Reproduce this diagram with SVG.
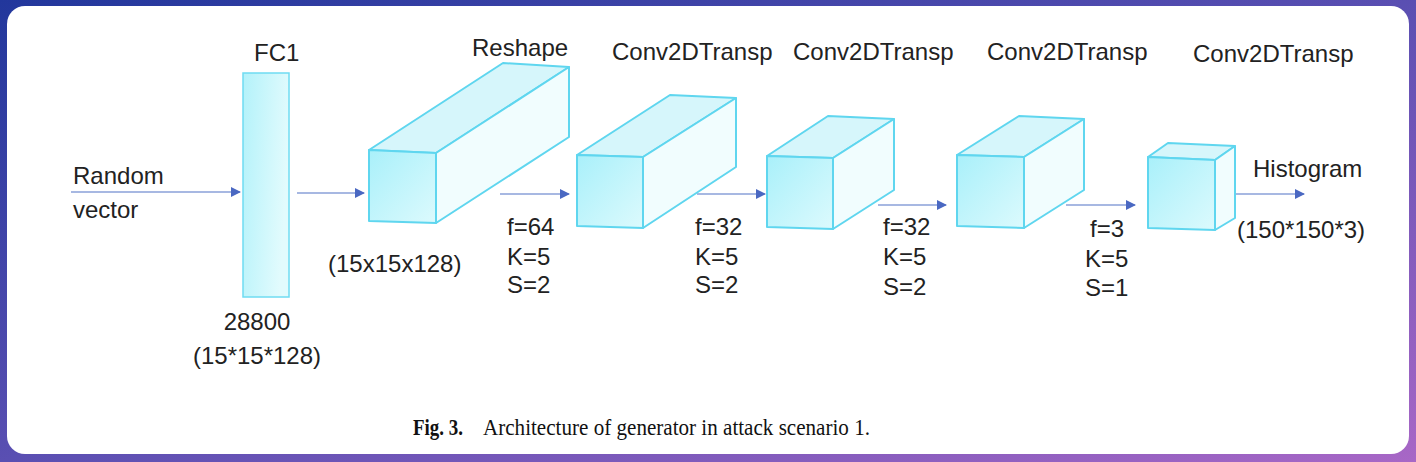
<svg xmlns="http://www.w3.org/2000/svg" width="1416" height="462" viewBox="0 0 1416 462">
<defs>
<linearGradient id="frame" x1="0" y1="0" x2="1" y2="1">
<stop offset="0" stop-color="#22379c"/>
<stop offset="0.5" stop-color="#5a4fb2"/>
<stop offset="1" stop-color="#a867c6"/>
</linearGradient>
<linearGradient id="front" x1="0" y1="0" x2="1" y2="1">
<stop offset="0" stop-color="#a9f0fa"/>
<stop offset="1" stop-color="#dcfafd"/>
</linearGradient>
<linearGradient id="fc" x1="0" y1="0" x2="1" y2="0.3">
<stop offset="0" stop-color="#b3f2fa"/>
<stop offset="1" stop-color="#e2fbfd"/>
</linearGradient>
<marker id="ah" viewBox="0 0 10 10" refX="9" refY="5" markerWidth="10" markerHeight="10" markerUnits="userSpaceOnUse" orient="auto">
<path d="M0,0 L10,5 L0,10 z" fill="#4a68c2"/>
</marker>
<style>
.t{font-family:"Liberation Sans",Arial,sans-serif;font-size:24px;fill:#222}
.fr{fill:url(#front);stroke:#5fd6ef;stroke-width:2;stroke-linejoin:round}
.tp{fill:#d6f6fb;stroke:#5fd6ef;stroke-width:2;stroke-linejoin:round}
.rt{fill:#f1fdfe;stroke:#5fd6ef;stroke-width:2;stroke-linejoin:round}
.ar{stroke:#8aa0d8;stroke-width:1.6;fill:none;marker-end:url(#ah)}
</style>
</defs>
<rect x="0" y="0" width="1416" height="462" fill="url(#frame)"/>
<rect x="7" y="6" width="1402" height="448" rx="18" fill="#ffffff"/>

<g id="connectors">
<line class="ar" x1="71" y1="192" x2="240" y2="192"/>
<line class="ar" x1="297" y1="193" x2="364" y2="193"/>
<line class="ar" x1="500" y1="194" x2="569" y2="194"/>
<line class="ar" x1="697" y1="194" x2="765" y2="194"/>
<line class="ar" x1="878" y1="205" x2="946" y2="205"/>
<line class="ar" x1="1066" y1="205" x2="1135" y2="205"/>
<line class="ar" x1="1236" y1="194" x2="1304" y2="194"/>
</g>

<g id="input">
<text class="t" x="73" y="184">Random</text>
<text class="t" x="73" y="218">vector</text>
</g>

<g id="fc1">
<text class="t" x="254" y="61">FC1</text>
<rect x="243" y="73" width="46" height="224" fill="url(#fc)" stroke="#6fdcf2" stroke-width="1.5"/>
<text class="t" x="257" y="330" text-anchor="middle">28800</text>
<text class="t" x="257" y="364" text-anchor="middle">(15*15*128)</text>
</g>

<g id="reshape">
<text class="t" x="472" y="56">Reshape</text>
<polygon class="tp" points="369,150 436,153 569,67 503,63"/>
<polygon class="rt" points="436,153 569,67 569,137 436,223"/>
<polygon class="fr" points="369,150 436,153 436,223 369,221"/>
<text class="t" x="328" y="272">(15x15x128)</text>
<text class="t" x="507" y="235">f=64</text>
<text class="t" x="507" y="265">K=5</text>
<text class="t" x="507" y="293">S=2</text>
</g>

<g id="conv1">
<text class="t" x="612" y="60">Conv2DTransp</text>
<polygon class="tp" points="577,155 643,157 736,98 670,95"/>
<polygon class="rt" points="643,157 736,98 736,167 643,228"/>
<polygon class="fr" points="577,155 643,157 643,228 577,226"/>
<text class="t" x="695" y="235">f=32</text>
<text class="t" x="695" y="265">K=5</text>
<text class="t" x="695" y="293">S=2</text>
</g>

<g id="conv2">
<text class="t" x="793" y="60">Conv2DTransp</text>
<polygon class="tp" points="767,156 833,158 894,119 828,116"/>
<polygon class="rt" points="833,158 894,119 894,190 833,229"/>
<polygon class="fr" points="767,156 833,158 833,229 767,227"/>
<text class="t" x="883" y="235">f=32</text>
<text class="t" x="883" y="265">K=5</text>
<text class="t" x="883" y="295">S=2</text>
</g>

<g id="conv3">
<text class="t" x="987" y="60">Conv2DTransp</text>
<polygon class="tp" points="957,155 1024,157 1084,119 1019,116"/>
<polygon class="rt" points="1024,157 1084,119 1084,190 1024,228"/>
<polygon class="fr" points="957,155 1024,157 1024,228 957,226"/>
<text class="t" x="1090" y="237">f=3</text>
<text class="t" x="1085" y="267">K=5</text>
<text class="t" x="1085" y="296">S=1</text>
</g>

<g id="conv4">
<text class="t" x="1193" y="62">Conv2DTransp</text>
<polygon class="tp" points="1148,157 1215,160 1235,146 1168,143"/>
<polygon class="rt" points="1215,160 1235,146 1235,218 1215,230"/>
<polygon class="fr" points="1148,157 1215,160 1215,230 1148,228"/>
</g>

<g id="output">
<text class="t" x="1253" y="177">Histogram</text>
<text class="t" x="1237" y="238">(150*150*3)</text>
</g>

<g id="caption">
<text x="413" y="435" font-family="'Liberation Serif','Times New Roman',serif" font-size="23" fill="#111"><tspan font-weight="bold" textLength="50" lengthAdjust="spacingAndGlyphs">Fig. 3.</tspan><tspan x="483" textLength="387" lengthAdjust="spacingAndGlyphs">Architecture of generator in attack scenario 1.</tspan></text>
</g>
</svg>
